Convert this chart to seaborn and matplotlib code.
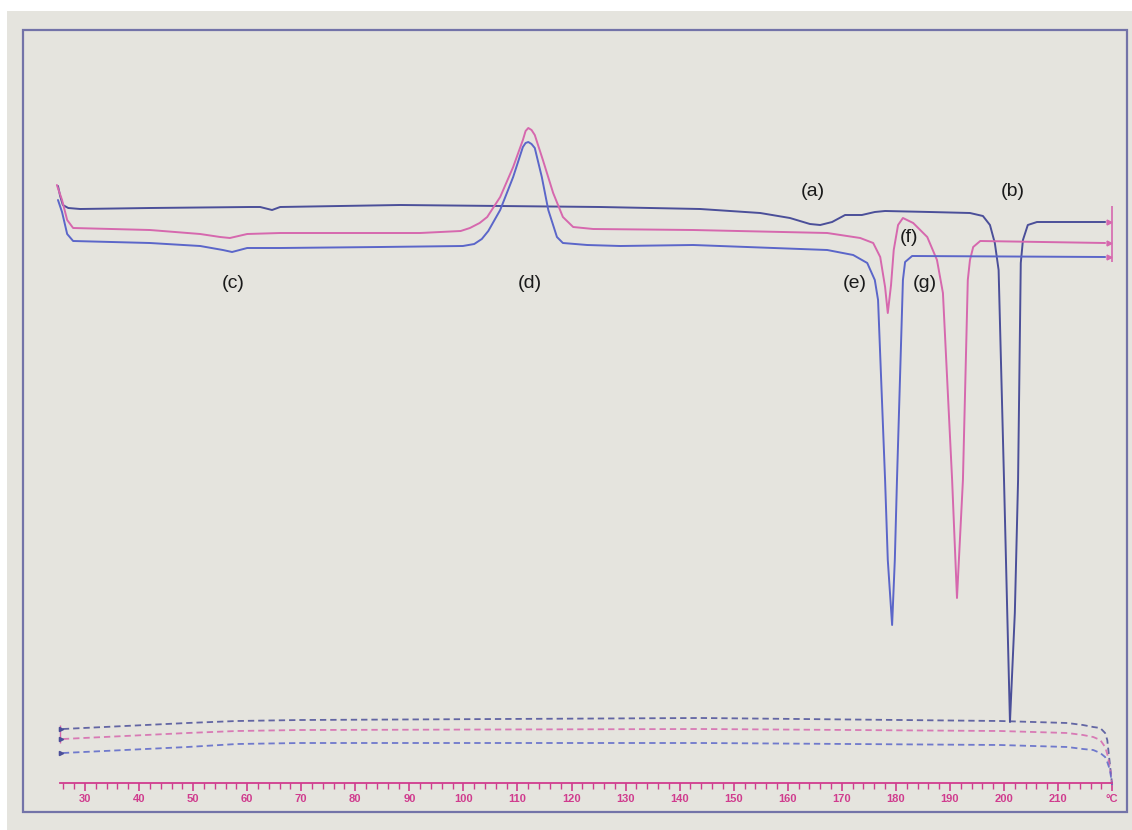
import numpy as np
import pandas as pd
import matplotlib
matplotlib.use("Agg")
import matplotlib.pyplot as plt
from matplotlib.patches import Rectangle
from matplotlib.ticker import FixedLocator
import seaborn as sns

# DSC traces, temperature in degC, heat flow in arbitrary units
temp_a = [25.0, 25.4, 25.9, 26.9, 29.1, 42.0, 60.5, 62.4, 64.6, 66.1, 88.3, 106.8, 125.3, 143.8,
          154.9, 160.4, 164.1, 166.0, 168.2, 170.6, 173.7, 176.1, 178.0, 186.3, 193.7, 196.1,
          197.4, 198.3, 199.0, 200.0, 200.6, 201.1, 202.0, 202.6, 203.1, 203.5, 204.4, 206.1, 218.7]
flow_a = [62.6, 61.6, 60.7, 60.4, 60.3, 60.4, 60.5, 60.5, 60.2, 60.5, 60.7, 60.6, 60.5, 60.3,
          59.9, 59.4, 58.8, 58.7, 59.0, 59.7, 59.7, 60.0, 60.1, 60.0, 59.9, 59.6,
          58.7, 56.9, 54.2, 33.2, 19.9, 9.0, 19.9, 33.2, 54.9, 57.2, 58.7, 59.0, 59.0]

temp_b = [24.8, 25.75, 26.7, 27.8, 42.0, 51.3, 55.0, 56.8, 60.0, 66.1, 92.0, 99.5, 101.2, 103.0,
          104.4, 106.8, 109.2, 111.0, 111.5, 112.0, 112.6, 113.2, 114.7, 116.6, 118.4, 120.3, 124.0,
          142.5, 167.3, 173.4, 175.8, 177.1, 178.0, 178.5, 179.1, 179.6, 180.4, 181.3, 183.2,
          185.8, 187.6, 188.7, 190.4, 191.3, 192.4, 193.3, 193.7, 194.3, 195.6, 218.7]
flow_b = [62.7, 61.2, 59.2, 58.4, 58.2, 57.8, 57.5, 57.4, 57.8, 57.9, 57.9, 58.1, 58.4, 58.9,
          59.5, 61.5, 64.5, 67.2, 68.1, 68.4, 68.2, 67.7, 65.2, 61.9, 59.5, 58.5, 58.3,
          58.2, 57.9, 57.4, 56.9, 55.5, 52.5, 49.9, 52.7, 56.2, 58.7, 59.4, 58.9,
          57.5, 55.2, 51.9, 33.2, 21.4, 33.2, 53.2, 55.2, 56.5, 57.1, 56.9]

temp_c = [25.0, 25.75, 26.7, 27.8, 42.0, 51.3, 55.5, 57.2, 60.0, 66.1, 84.6, 99.9, 102.0, 103.4,
          104.6, 106.8, 109.2, 111.0, 111.5, 112.0, 112.6, 113.2, 114.5, 115.7, 117.3, 118.4,
          122.9, 129.0, 142.5, 167.3, 172.1, 174.7, 176.1, 176.7, 178.0, 178.5, 179.3, 179.8,
          180.2, 181.3, 181.7, 183.0, 218.7]
flow_c = [61.2, 60.0, 57.8, 57.1, 56.9, 56.6, 56.2, 56.0, 56.4, 56.4, 56.5, 56.6, 56.8, 57.3,
          58.1, 60.2, 63.5, 66.5, 66.9, 67.0, 66.8, 66.4, 63.5, 60.2, 57.5, 56.9,
          56.7, 56.6, 56.7, 56.2, 55.7, 54.9, 53.2, 51.2, 33.2, 25.2, 18.7, 25.2,
          33.2, 53.2, 55.0, 55.6, 55.5]

# temperature program (dashed) traces
temp_prog = [25.9, 48.9, 58.1, 69.8, 143.8, 199.3, 211.7, 214.6, 216.5, 217.8, 218.7, 219.1, 219.6, 220.0]
prog_a = [8.3, 8.9, 9.1, 9.2, 9.4, 9.1, 8.9, 8.7, 8.5, 8.4, 7.9, 7.2, 4.7, 2.7]
prog_b = [7.3, 7.9, 8.1, 8.2, 8.3, 8.1, 7.9, 7.7, 7.5, 7.2, 6.5, 5.8, 4.5, 2.7]
prog_c = [5.9, 6.5, 6.8, 6.9, 6.9, 6.7, 6.5, 6.3, 6.2, 5.9, 5.5, 5.0, 4.2, 2.7]

tick_values = list(range(30, 221, 10))
tick_labels = [str(t) for t in tick_values[:-1]] + ["\u00b0C"]
minor_ticks = list(range(26, 221, 2))

labels = ["(a)", "(b)", "(c)", "(d)", "(e)", "(f)", "(g)"]
label_temp = [164.7, 201.7, 57.4, 112.3, 172.4, 182.4, 185.4]
label_flow = [62.0, 62.0, 52.8, 52.8, 52.8, 57.4, 52.8]

navy = "#4b4f99"
pink = "#d668ae"
blue = "#5b66c9"
ruler = "#d03c8e"
paper = "#e5e4de"
frame = "#7373a8"

sns.set_theme(style="white")
plt.rcParams["font.family"] = ["Liberation Sans", "DejaVu Sans"]

fig = plt.figure(figsize=(11.32, 8.3), dpi=100, facecolor="white")
fig.patches.append(Rectangle((7 / 1132, 0), 1 - 7 / 1132, 1 - 11 / 830, transform=fig.transFigure,
                             facecolor=paper, edgecolor="none", zorder=-10))

ax = fig.add_axes([23 / 1132, 18 / 830, 1104 / 1132, 782 / 830])
ax.set_facecolor("none")
ax.set_xlim(18.53, 222.75)
ax.set_ylim(0, 78.2)
ax.add_patch(Rectangle((0, 0), 1, 1, transform=ax.transAxes, facecolor="none",
                       edgecolor=frame, lw=1.6, clip_on=False))

for t, f, c in [(temp_a, flow_a, navy), (temp_b, flow_b, pink), (temp_c, flow_c, blue)]:
    sns.lineplot(x=t, y=f, color=c, lw=1.4, sort=False, estimator=None, ax=ax)

for p, c in [(prog_a, navy), (prog_b, pink), (prog_c, blue)]:
    sns.lineplot(x=temp_prog, y=p, color=c, lw=1.3, sort=False, estimator=None, ax=ax,
                 linestyle=(0, (3.5, 2.2)), alpha=0.85)

# end markers
ax.vlines(220.0, 55.0, 60.6, color=pink, lw=1.2)
ax.vlines(25.3, 6.9, 8.7, color=pink, lw=1.0)
ax.plot([219.5] * 3, [flow_a[-1], flow_b[-1], flow_c[-1]], ls="none", marker=">", ms=3.5, color=pink)
ax.plot([25.6] * 3, [prog_a[0], prog_b[0], prog_c[0]], ls="none", marker=">", ms=3, color=navy)

for s, t, f in zip(labels, label_temp, label_flow):
    ax.text(t, f, s, fontsize=14, ha="center", va="center", color="#1a1a1a")

# temperature ruler on the bottom spine
for side in ["top", "left", "right"]:
    ax.spines[side].set_visible(False)
ax.spines["bottom"].set_position(("data", 2.9))
ax.spines["bottom"].set_bounds(25.4, 220.0)
ax.spines["bottom"].set_color(ruler)
ax.spines["bottom"].set_linewidth(1.3)
ax.set_xticks(tick_values)
ax.set_xticklabels(tick_labels)
ax.xaxis.set_minor_locator(FixedLocator(minor_ticks))
ax.tick_params(axis="x", which="major", direction="out", length=6, width=1.2, color=ruler,
               labelcolor=ruler, labelsize=8, pad=2, bottom=True)
ax.tick_params(axis="x", which="minor", direction="out", length=4, width=1.0, color=ruler, bottom=True)
for lab in ax.get_xticklabels():
    lab.set_fontweight("bold")
ax.set_yticks([])
ax.set_xlabel("")
ax.set_ylabel("")

fig.savefig("out.png", dpi=100, facecolor="white")
